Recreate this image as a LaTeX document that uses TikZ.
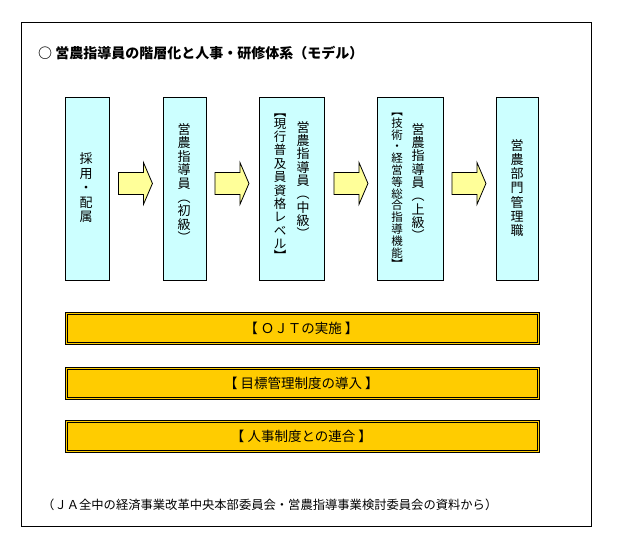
\documentclass[tikz,border=0pt]{standalone}
\usepackage{fontspec}
\setmainfont{Noto Sans CJK JP}
\usetikzlibrary{calc}
\definecolor{boxcyan}{HTML}{CCFFFF}
\definecolor{arrowyellow}{HTML}{FFFF99}
\definecolor{baryellow}{HTML}{FFCC00}
\tikzset{
  stagebox/.style={draw, line width=0.9pt, fill=boxcyan, inner sep=0, anchor=north west},
  vtext/.style={align=center, inner sep=0},
  bar/.style={draw, line width=0.9pt, fill=baryellow, inner sep=0, anchor=north west, minimum width=474, minimum height=32},
  bartext/.style={font=\fontsize{13.5}{15}\selectfont, inner sep=0},
  blockarrow/.pic={
    \draw[line width=0.8pt, fill=arrowyellow] (-17,-11) -- (8,-11) -- (8,-21) -- (17,0) -- (8,21) -- (8,11) -- (-17,11) -- cycle;
  }
}
\begin{document}
\begin{tikzpicture}[x=1pt,y=-1pt]
\useasboundingbox (0,0) rectangle (619,542);
\draw[line width=1pt] (21,22) rectangle (591,526);

\node[anchor=west, inner sep=0, font=\fontsize{14}{16}\selectfont\bfseries] (title) at (38,53) {○ 営農指導員の階層化と人事・研修体系（モデル）};

% stage boxes
\node[stagebox, minimum width=44, minimum height=183] (b1) at (65,97) {};
\node[stagebox, minimum width=43, minimum height=183] (b2) at (163,97) {};
\node[stagebox, minimum width=65, minimum height=183] (b3) at (259,97) {};
\node[stagebox, minimum width=66, minimum height=183] (b4) at (377,97) {};
\node[stagebox, minimum width=42, minimum height=183] (b5) at (496,97) {};

% vertical texts
\node[vtext, font=\fontsize{13}{14.5}\selectfont] (t1) at (86,188) {採\\用\\・\\配\\属};
\node[vtext, font=\fontsize{13}{13.6}\selectfont] (t2) at (184,183) {営\\農\\指\\導\\員\\︵\\初\\級\\︶};
\node[vtext, font=\fontsize{13}{13.3}\selectfont] (t3a) at (303,180) {営\\農\\指\\導\\員\\︵\\中\\級\\︶};
\node[vtext, font=\fontsize{12.5}{13.4}\selectfont] (t3b) at (280,187) {︻\\[-2pt]現\\行\\普\\及\\員\\資\\格\\レ\\ベ\\ル\\[-2pt]︼};
\node[vtext, font=\fontsize{13}{13.3}\selectfont] (t4a) at (418,182) {営\\農\\指\\導\\員\\︵\\上\\級\\︶};
\node[vtext, font=\fontsize{11.5}{11.8}\selectfont] (t4b) at (397,191) {︻\\技\\術\\・\\経\\営\\等\\総\\合\\指\\導\\機\\能\\︼};
\node[vtext, font=\fontsize{13}{14.2}\selectfont] (t5) at (517,188) {営\\農\\部\\門\\管\\理\\職};

% block arrows
\path ($(b1.east)!0.5!(b2.west)+(-1,-5.5)$) pic {blockarrow};
\path ($(b2.east)!0.5!(b3.west)+(-1,-5.5)$) pic {blockarrow};
\path ($(b3.east)!0.5!(b4.west)+(0,-5.5)$) pic {blockarrow};
\path ($(b4.east)!0.5!(b5.west)+(-1,-5.5)$) pic {blockarrow};

% bars
\node[bar] (bar1) at (65,312) {};
\node[bar] (bar2) at (65,367) {};
\node[bar] (bar3) at (65,420) {};
\foreach \b in {bar1,bar2,bar3}{
  \draw[line width=0.8pt] ($(\b.north west)+(2.6,2.6)$) rectangle ($(\b.south east)+(-2.6,-2.6)$);
}
\node[bartext] at ($(bar1.center)+(-1,0)$) {【 ＯＪＴの実施 】};
\node[bartext] at ($(bar2.center)+(-1,0)$) {【 目標管理制度の導入 】};
\node[bartext] at ($(bar3.center)+(-1,0)$) {【 人事制度との連合 】};

\node[anchor=west, inner sep=0, font=\fontsize{12.3}{14}\selectfont] (foot) at (42,505) {（ＪＡ全中の経済事業改革中央本部委員会・営農指導事業検討委員会の資料から）};
\end{tikzpicture}
\end{document}
